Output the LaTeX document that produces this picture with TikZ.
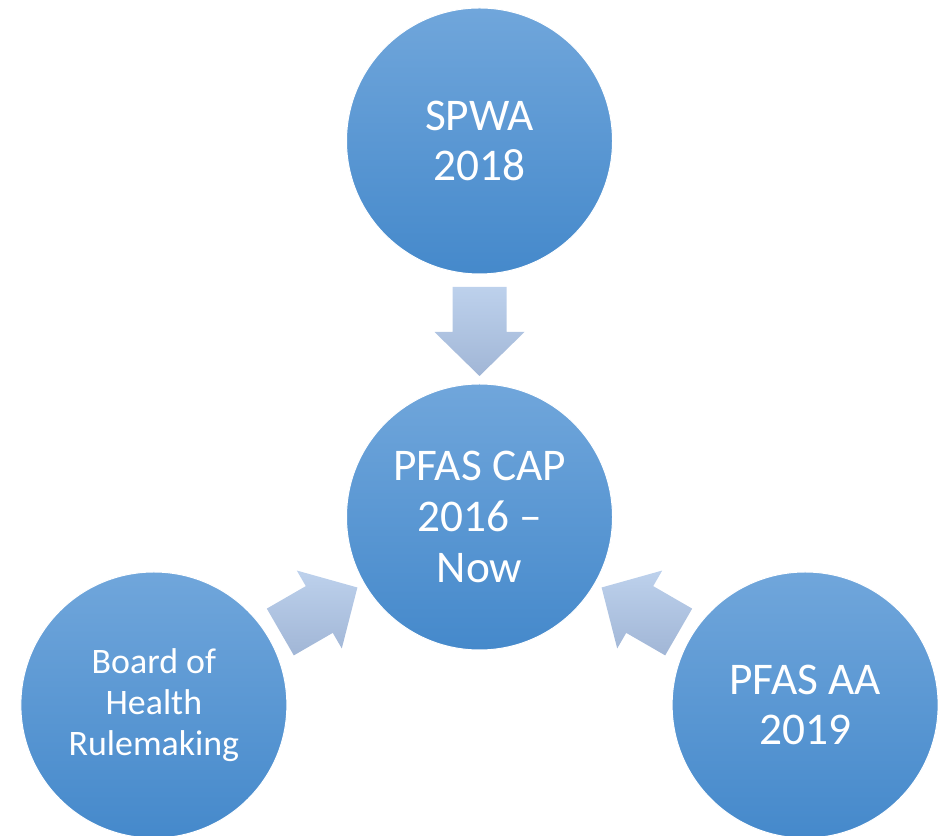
\documentclass[tikz,border=0pt]{standalone}
\usepackage{fontspec}
\setmainfont{Carlito}
\usepackage{tikz}
\usetikzlibrary{calc, positioning}
\definecolor{bubbletop}{HTML}{70A6DB}
\definecolor{bubblebot}{HTML}{4589CB}
\definecolor{arrowtop}{HTML}{BDD1EC}
\definecolor{arrowbot}{HTML}{A1B6D6}
\tikzstyle{bubble}=[shape=circle,minimum size=267,inner sep=0pt,draw=white,line width=1bp,top color=bubbletop,bottom color=bubblebot,text=white,align=center,font=\fontsize{45.5}{51}\selectfont]
\tikzstyle{smalltext}=[font=\fontsize{36}{41}\selectfont]
\tikzstyle{bigarrow}=[top color=arrowtop,bottom color=arrowbot]

\begin{document}
\begin{tikzpicture}[x=1bp,y=1bp]
\useasboundingbox (0,0) rectangle (939,836);
%\draw[step=100,gray,very thin] (0,0) grid (939,836);
\node[bubble] (cap) at (479.5,319){PFAS CAP\\2016 --\\Now};
\node[bubble] (spwa) at ($(cap)+(90:376)$){SPWA\\2018};
\node[bubble,smalltext] (boh) at ($(cap)+(210:376)$){Board of\\Health\\Rulemaking};
\node[bubble] (aa) at ($(cap)+(330:376)$){PFAS AA\\2019};

\foreach \src in {spwa,boh,aa}
  \shade[bigarrow] let \p1=($(\src)-(cap)$), \n1={atan2(\y1,\x1)} in
    ($(cap)+(\n1:230)+(\n1+90:27)$) -- ($(cap)+(\n1:185)+(\n1+90:27)$)
    -- ($(cap)+(\n1:185)+(\n1+90:45)$) -- ($(cap)+(\n1:141)$)
    -- ($(cap)+(\n1:185)+(\n1-90:45)$) -- ($(cap)+(\n1:185)+(\n1-90:27)$)
    -- ($(cap)+(\n1:230)+(\n1-90:27)$) -- cycle;

\end{tikzpicture}
\end{document}
